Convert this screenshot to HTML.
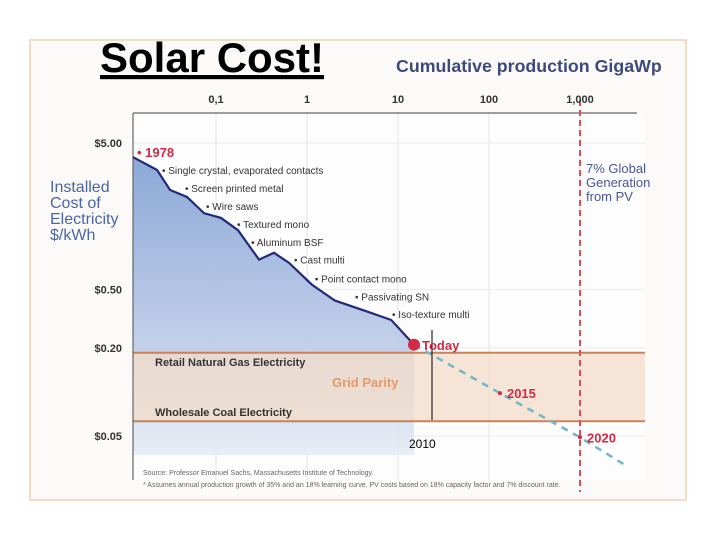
<!DOCTYPE html>
<html><head><meta charset="utf-8"><style>
body{margin:0;background:#fff;}
#wrap{position:relative;width:720px;height:540px;overflow:hidden;background:#fff;font-family:"Liberation Sans",sans-serif;}
text{font-family:"Liberation Sans",sans-serif;}
</style></head><body>
<div id="wrap">
<svg id="chart" width="720" height="540">
<defs>
<linearGradient id="blueg" x1="0" y1="0" x2="0" y2="1">
<stop offset="0" stop-color="#7f9fd3"/><stop offset="0.6" stop-color="#b9c9e6"/><stop offset="1" stop-color="#e6ebf5"/>
</linearGradient>
</defs>
<rect x="30" y="40" width="656" height="460" fill="#fbfaf8" stroke="#f1dcc6" stroke-width="2"/>
<rect x="133" y="113" width="512" height="367" fill="#fdfdfe"/>
<g id="grid"></g>
<g id="marks"></g>
<g id="labels"></g>
</svg>
</div>
<script>
const xTicks=[0.1,1,10,100,1000];
const xTickLabels=["0,1","1","10","100","1,000"];
const yTicks=[5,0.5,0.2,0.05];
const yTickLabels=["$5.00","$0.50","$0.20","$0.05"];
const histProd=[0.0122,0.0225,0.0313,0.048,0.0738,0.1135,0.1745,0.297,0.434,0.634,1.13,2.03,4.8,8.4,15];
const histCost=[4.01,3.27,2.39,2.14,1.66,1.54,1.27,0.80,0.89,0.76,0.54,0.42,0.35,0.31,0.21];
const projProd=[15,132,1000,3050];
const projCost=[0.21,0.098,0.049,0.032];
const gasPrice=0.185, coalPrice=0.063, globalTarget=1000;
const milestones=["Single crystal, evaporated contacts","Screen printed metal","Wire saws","Textured  mono","Aluminum BSF","Cast multi","Point contact mono","Passivating SN","Iso-texture multi"];
const milestoneProd=[0.0255,0.0456,0.0777,0.170,0.243,0.72,1.22,3.37,8.6];
const milestoneCost=[3.07,2.31,1.75,1.31,0.99,0.75,0.56,0.42,0.32];

const X=v=>307+91*Math.log10(v);
const Y=v=>143+146.5*Math.log10(5/v);
const NS="http://www.w3.org/2000/svg";
function mk(parent,tag,attrs,txt){const e=document.createElementNS(NS,tag);for(const k in attrs)e.setAttribute(k,attrs[k]);if(txt!==undefined)e.textContent=txt;document.getElementById(parent).appendChild(e);return e;}
let e;
xTicks.forEach((t,i)=>{
 e=mk("grid","line",{x1:X(t),x2:X(t),y1:113,y2:480,stroke:"#e2e2e6","stroke-width":1});
 
 
 e=mk("labels","text",{x:X(t),y:103,"text-anchor":"middle","font-size":11,"font-weight":"bold",fill:"#333"},xTickLabels[i]);
 
 
});
yTicks.forEach((t,i)=>{
 e=mk("grid","line",{x1:133,x2:645,y1:Y(t),y2:Y(t),stroke:"#ececf0","stroke-width":1});
 
 
 e=mk("labels","text",{x:122,y:Y(t)+4,"text-anchor":"end","font-size":11,"font-weight":"bold",fill:"#333"},yTickLabels[i]);
 
 
});
let d="M133,"+Y(histCost[0]);
histProd.forEach((p,i)=>{d+=" L"+X(p)+","+Y(histCost[i]);});
d+=" L"+X(histProd[histProd.length-1])+",455 L133,455 Z";
e=mk("marks","path",{d:d,fill:"url(#blueg)",opacity:0.9});


e=mk("marks","rect",{x:133,y:Y(gasPrice),width:512,height:Y(coalPrice)-Y(gasPrice),fill:"#f3dcc8",opacity:0.75});


["gas","coal"].forEach((n,i)=>{const v=i?coalPrice:gasPrice;
 e=mk("marks","line",{x1:133,x2:645,y1:Y(v),y2:Y(v),stroke:"#c9825a","stroke-width":2});
 
 
});
e=mk("marks","line",{x1:133,x2:637,y1:113,y2:113,stroke:"#666","stroke-width":1.2});


e=mk("marks","line",{x1:133,x2:133,y1:113,y2:480,stroke:"#666","stroke-width":1.2});


let pts=histProd.map((p,i)=>X(p)+","+Y(histCost[i])).join(" ");
e=mk("marks","polyline",{points:pts,fill:"none",stroke:"#232a7a","stroke-width":2.2});


pts=projProd.map((p,i)=>X(p)+","+Y(projCost[i])).join(" ");
e=mk("marks","polyline",{points:pts,fill:"none",stroke:"#6fb8c8","stroke-width":2.5,"stroke-dasharray":"7,6"});


e=mk("marks","line",{x1:X(globalTarget),x2:X(globalTarget),y1:100,y2:492,stroke:"#d9505a","stroke-width":2,"stroke-dasharray":"6,4"});


e=mk("marks","circle",{cx:X(histProd[14]),cy:Y(histCost[14]),r:6,fill:"#d42a45"});


[[1,"2015"],[2,"2020"]].forEach(([i,l])=>{
 e=mk("marks","circle",{cx:X(projProd[i]),cy:Y(projCost[i]),r:2,fill:"#d42a45"});
 
 
 e=mk("labels","text",{x:X(projProd[i])+7,y:Y(projCost[i])+5,"font-size":13,"font-weight":"bold",fill:"#d42a45"},l);
 
 
});
milestones.forEach((m,i)=>{
 e=mk("labels","text",{x:X(milestoneProd[i]),y:Y(milestoneCost[i]),"font-size":10,fill:"#333"},"• "+m);
 
 
});
function T(x,y,s,txt,name,extra){e=mk("labels","text",Object.assign({x:x,y:y,"font-size":s},extra||{}),txt);return e;}
T(137,157,13,"• 1978","label-1978",{fill:"#d42a45","font-weight":"bold"});
T(422,350,13,"Today","label-today",{fill:"#d42a45","font-weight":"bold"});
T(155,366,11,"Retail Natural Gas Electricity","gas-label",{fill:"#333","font-weight":"bold"});
T(155,416,11,"Wholesale Coal Electricity","coal-label",{fill:"#333","font-weight":"bold"});
T(332,387,13,"Grid Parity","grid-parity-label",{fill:"#e29a6a","font-weight":"bold"});
T(586,173,13,"7% Global","target-label-1",{fill:"#4a5590"});
T(586,187,13,"Generation","target-label-2",{fill:"#4a5590"});
T(586,201,13,"from PV","target-label-3",{fill:"#4a5590"});
T(50,192,16,"Installed","y-title-1",{fill:"#4a66a8"});
T(50,208,16,"Cost of","y-title-2",{fill:"#4a66a8"});
T(50,224,16,"Electricity","y-title-3",{fill:"#4a66a8"});
T(50,240,16,"$/kWh","y-title-4",{fill:"#4a66a8"});
T(396,72,17.8,"Cumulative production GigaWp","x-axis-title",{fill:"#3d4a7a","font-weight":"bold"});
T(143,475,7,"Source: Professor Emanuel Sachs, Massachusetts Institute of Technology.","source-note",{fill:"#666"});
T(143,487,7,"* Assumes annual production growth of 35% and an 18% learning curve. PV costs based on 18% capacity factor and 7% discount rate.","assumption-note",{fill:"#666"});
T(100,72,42,"Solar Cost!","page-title",{fill:"#000","font-weight":"bold","text-decoration":"underline"});
T(409,448,12,"2010","year-2010-label",{fill:"#000"});
e=mk("marks","line",{x1:432,x2:432,y1:330,y2:420,stroke:"#000","stroke-width":1});


</script>
</body></html>
